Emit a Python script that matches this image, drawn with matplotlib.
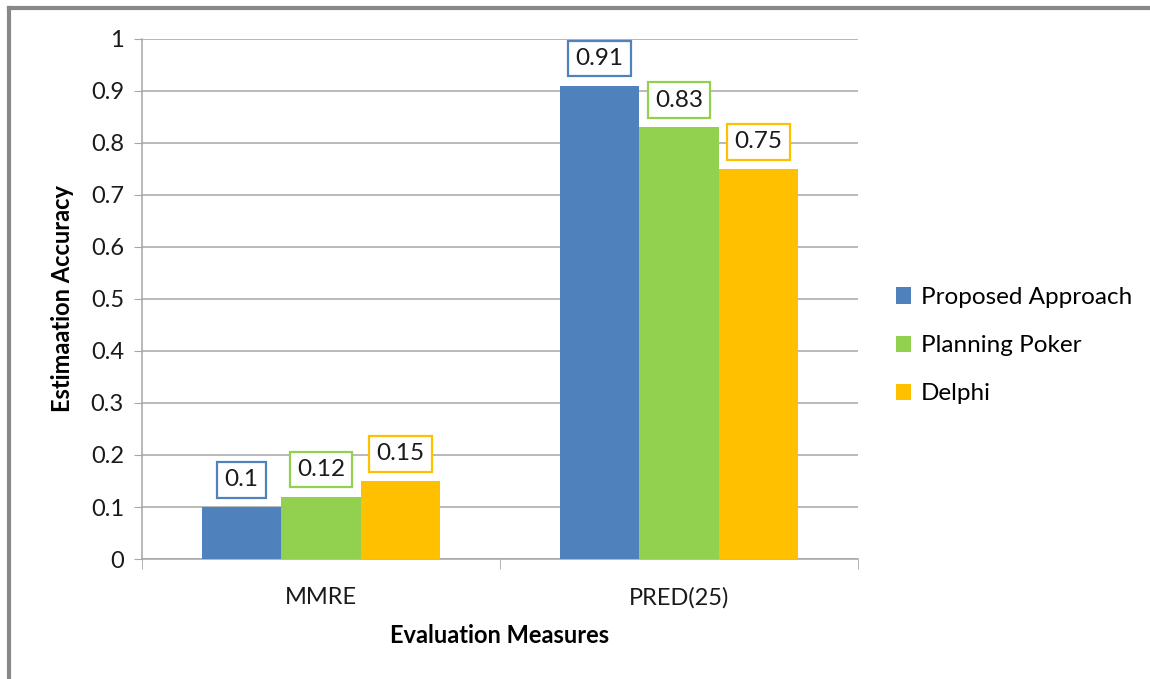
import numpy as np
import matplotlib.pyplot as plt
from matplotlib.lines import Line2D

plt.rcParams['font.family'] = ['Lato', 'DejaVu Sans']

# Evaluation measures and the accuracy of each estimation method
measures = ["MMRE", "PRED(25)"]
methods = ["Proposed Approach", "Planning Poker", "Delphi"]
proposed = [0.10, 0.91]
poker = [0.12, 0.83]
delphi = [0.15, 0.75]
colors = ["#4F81BD", "#92D050", "#FFC000"]

fig = plt.figure(figsize=(11.5, 6.79), dpi=100)
ax = fig.add_axes([0.1235, 0.1767, 0.6225, 0.766])

x = np.arange(len(measures))
width = 0.222
series = [proposed, poker, delphi]

for k, (vals, name, c) in enumerate(zip(series, methods, colors)):
    pos = x + (k - 1) * width
    bars = ax.bar(pos, vals, width, color=c, label=name, zorder=3)
    for b, v in zip(bars, vals):
        ax.annotate("%g" % v, (b.get_x() + b.get_width() / 2, v),
                    xytext=(0, 12), textcoords="offset points",
                    ha="center", va="bottom", fontsize=17.5, color="#1a1a1a",
                    bbox=dict(boxstyle="square,pad=0.3", fc="white", ec=c, lw=1.6),
                    zorder=4)

ax.set_xlim(-0.5, 1.5)
ax.set_ylim(0, 1)
ax.set_yticks(np.arange(0, 1.01, 0.1))
ax.set_yticklabels(["0", "0.1", "0.2", "0.3", "0.4", "0.5", "0.6", "0.7", "0.8", "0.9", "1"])
ax.set_xticks(x)
ax.set_xticklabels(measures)
ax.set_xticks([-0.5, 0.5, 1.5], minor=True)

ax.grid(axis="y", color="#a6a6a6", lw=1.1, zorder=0)
for s in ["top", "right"]:
    ax.spines[s].set_visible(False)
for s in ["left", "bottom"]:
    ax.spines[s].set_color("#a6a6a6")
    ax.spines[s].set_linewidth(1.1)

ax.tick_params(axis="y", length=6, color="#a6a6a6", labelsize=17, pad=7, labelcolor="#1a1a1a")
ax.tick_params(axis="x", which="major", length=0, labelsize=17, pad=20, labelcolor="#1a1a1a")
ax.tick_params(axis="x", which="minor", length=7, color="#a6a6a6")

ax.set_ylabel("Estimaation Accuracy", fontsize=17, fontweight="bold", labelpad=12)
ax.set_xlabel("Evaluation Measures", fontsize=17, fontweight="bold", labelpad=11)

ax.legend(loc="center left", bbox_to_anchor=(1.022, 0.41), frameon=False,
          fontsize=17.5, handlelength=0.65, handleheight=0.65, handletextpad=0.4,
          labelspacing=1.12)

# gray frame along the top and left edges
fig.add_artist(Line2D([0.0075, 1.0], [0.988, 0.988], transform=fig.transFigure,
                      color="#888888", lw=3))
fig.add_artist(Line2D([0.0075, 0.0075], [0.0, 0.988], transform=fig.transFigure,
                      color="#888888", lw=3))

fig.savefig("out.png", dpi=100)
